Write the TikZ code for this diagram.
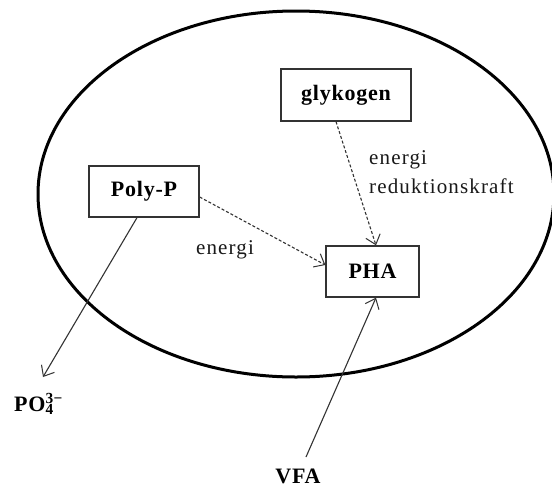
\documentclass[tikz,border=0pt]{standalone}
\usepackage{fontspec}
\setmainfont{Liberation Serif}
\newfontfamily\spacedfont[LetterSpace=5.5]{Liberation Serif}
\newfontfamily\spacedbold[LetterSpace=3.5]{Liberation Serif Bold}
\usetikzlibrary{arrows.meta,calc}
\begin{document}
\begin{tikzpicture}[x=1pt,y=-1pt,
  box/.style={draw=black!80,line width=1.3pt,fill=white,inner sep=0pt,font=\fontsize{22}{26}\selectfont\spacedbold},
  lbl/.style={inner sep=0pt,font=\fontsize{21}{29}\selectfont\spacedfont,text=black!90},
  blbl/.style={inner sep=0pt,font=\fontsize{22}{26}\selectfont\spacedbold},
  tip/.style={-{Straight Barb[length=9pt,width=15pt,line width=1pt]}},
  flow/.style={tip,draw=black!80,line width=1.1pt},
  dflow/.style={flow,dash pattern=on 3pt off 2pt}]
\useasboundingbox (0,0) rectangle (552,488);
\fill[white] (0,0) rectangle (552,488);
% cell
\draw[line width=3pt] (296,194) ellipse [x radius=258, y radius=183];
% nodes
\node[box,minimum width=130pt,minimum height=52pt] (glyk) at (346,95) {glykogen};
\node[box,minimum width=110pt,minimum height=51pt] (polyp) at (144,191.5) {Poly-P};
\node[box,minimum width=93pt,minimum height=51pt] (pha) at (372.5,271.5) {PHA};
\node[blbl,anchor=west] (po4) at (14,404) {PO\rlap{\textsuperscript{3−}}\textsubscript{4}\hphantom{\textsuperscript{3}}};
\node[blbl] (vfa) at (298,476) {VFA};
\node[lbl,anchor=west,align=left] (gl) at (369,172.5) {energi\\reduktionskraft};
\node[lbl] (pl) at (225,250) {energi};
\coordinate (po4tip) at (43,377);
\coordinate (vfatop) at (306,457);
% connectors
\draw[dflow] ($(glyk.south)+(-10,0)$) -- ($(pha.north)+(3.5,0)$);
\draw[dflow] ($(polyp.east)+(0,5.5)$) -- ($(pha.west)+(0,-6.5)$);
\draw[flow] ($(polyp.south)+(-7,0)$) -- (po4tip);
\draw[flow] (vfatop) -- ($(pha.south)+(3.5,0)$);
\end{tikzpicture}
\end{document}
